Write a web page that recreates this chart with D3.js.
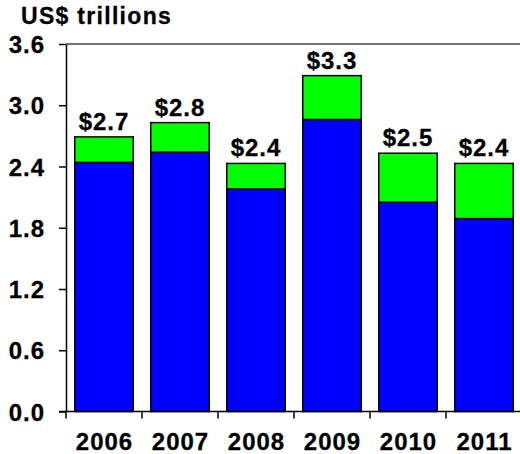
<!DOCTYPE html>
<html>
<head>
<meta charset="utf-8">
<script src="https://cdn.jsdelivr.net/npm/d3@7"></script>
<style>
  html, body { margin: 0; padding: 0; background: #fff; }
  svg { display: block; }
  text { font-family: "Liberation Sans", Arial, Helvetica, sans-serif; font-weight: bold; fill: #000; stroke: #000; stroke-width: 0.3px; }
</style>
</head>
<body>
<svg id="chart" width="520" height="454"></svg>
<script>
// Yearly totals split into two stacked components (US$ trillions)
const years = ["2006", "2007", "2008", "2009", "2010", "2011"];
const baseValues = [2.44, 2.54, 2.18, 2.86, 2.05, 1.89];
const topValues = [0.25, 0.29, 0.25, 0.43, 0.48, 0.54];
const yTicks = [0, 0.6, 1.2, 1.8, 2.4, 3.0, 3.6];
const unitLabel = "US$ trillions";

const svg = d3.select("#chart");
const plotLeft = 66, plotRight = 522, plotTop = 44, plotBottom = 411.5;

const x = d3.scaleBand()
  .domain(years)
  .range([plotLeft, plotRight])
  .paddingInner(0.23)
  .paddingOuter(0.115);

const y = d3.scaleLinear().domain([0, 3.6]).range([plotBottom, plotTop]);

const rows = years.map((yr, i) => ({
  year: yr,
  base: baseValues[i],
  extra: topValues[i],
  total: baseValues[i] + topValues[i]
}));

// Top edge of the plot area
svg.append("line")
  .attr("x1", plotLeft).attr("x2", plotRight)
  .attr("y1", y(3.6)).attr("y2", y(3.6))
  .attr("stroke", "#444").attr("stroke-width", 1.5);

// Stacked bars
const g = svg.append("g");
g.selectAll("rect.base").data(rows).join("rect")
  .attr("class", "base")
  .attr("x", d => x(d.year)).attr("width", x.bandwidth())
  .attr("y", d => y(d.base)).attr("height", d => y(0) - y(d.base))
  .attr("fill", "#0000ff").attr("stroke", "#000").attr("stroke-width", 1.5);

g.selectAll("rect.extra").data(rows).join("rect")
  .attr("class", "extra")
  .attr("x", d => x(d.year)).attr("width", x.bandwidth())
  .attr("y", d => y(d.total)).attr("height", d => y(d.base) - y(d.total))
  .attr("fill", "#00ff00").attr("stroke", "#000").attr("stroke-width", 1.5);

// Total labels above each bar
g.selectAll("text.total").data(rows).join("text")
  .attr("class", "total")
  .attr("x", d => x(d.year) + x.bandwidth() / 2)
  .attr("y", d => y(d.total) - 7)
  .attr("text-anchor", "middle")
  .style("font-size", "24px")
  .style("letter-spacing", "1px")
  .text(d => "$" + d3.format(".1f")(d.total));

// Y axis
const yAxis = svg.append("g")
  .attr("transform", `translate(${plotLeft},0)`)
  .call(d3.axisLeft(y).tickValues(yTicks).tickFormat(d3.format(".1f"))
    .tickSizeInner(7).tickSizeOuter(0).tickPadding(14));
yAxis.select(".domain").attr("stroke", "#000").attr("stroke-width", 1.5);
yAxis.selectAll(".tick line").attr("stroke", "#000").attr("stroke-width", 1.5);
yAxis.attr("font-family", null).attr("font-size", null);
yAxis.selectAll(".tick text")
  .attr("fill", null)
  .style("font-size", "24px").style("letter-spacing", "1px")
  .attr("dy", "0.36em");

// X axis baseline, boundary ticks and labels
const step = x.step();
const boundaries = years.map(yr => x(yr) - (step - x.bandwidth()) / 2);
svg.append("line")
  .attr("x1", plotLeft - 7).attr("x2", plotRight)
  .attr("y1", y(0)).attr("y2", y(0))
  .attr("stroke", "#000").attr("stroke-width", 1.5);
svg.selectAll("line.xtick").data(boundaries).join("line")
  .attr("class", "xtick")
  .attr("x1", d => d).attr("x2", d => d)
  .attr("y1", y(0)).attr("y2", y(0) + 7)
  .attr("stroke", "#000").attr("stroke-width", 1.5);
svg.selectAll("text.xlab").data(years).join("text")
  .attr("class", "xlab")
  .attr("x", d => x(d) + x.bandwidth() / 2 + 0.5)
  .attr("y", 450)
  .attr("text-anchor", "middle")
  .style("font-size", "24px")
  .style("letter-spacing", "1px")
  .text(d => d);

// Unit label
svg.append("text")
  .attr("x", 21).attr("y", 24)
  .style("font-size", "23px")
  .style("letter-spacing", "1.3px")
  .text(unitLabel);
</script>
</body>
</html>
